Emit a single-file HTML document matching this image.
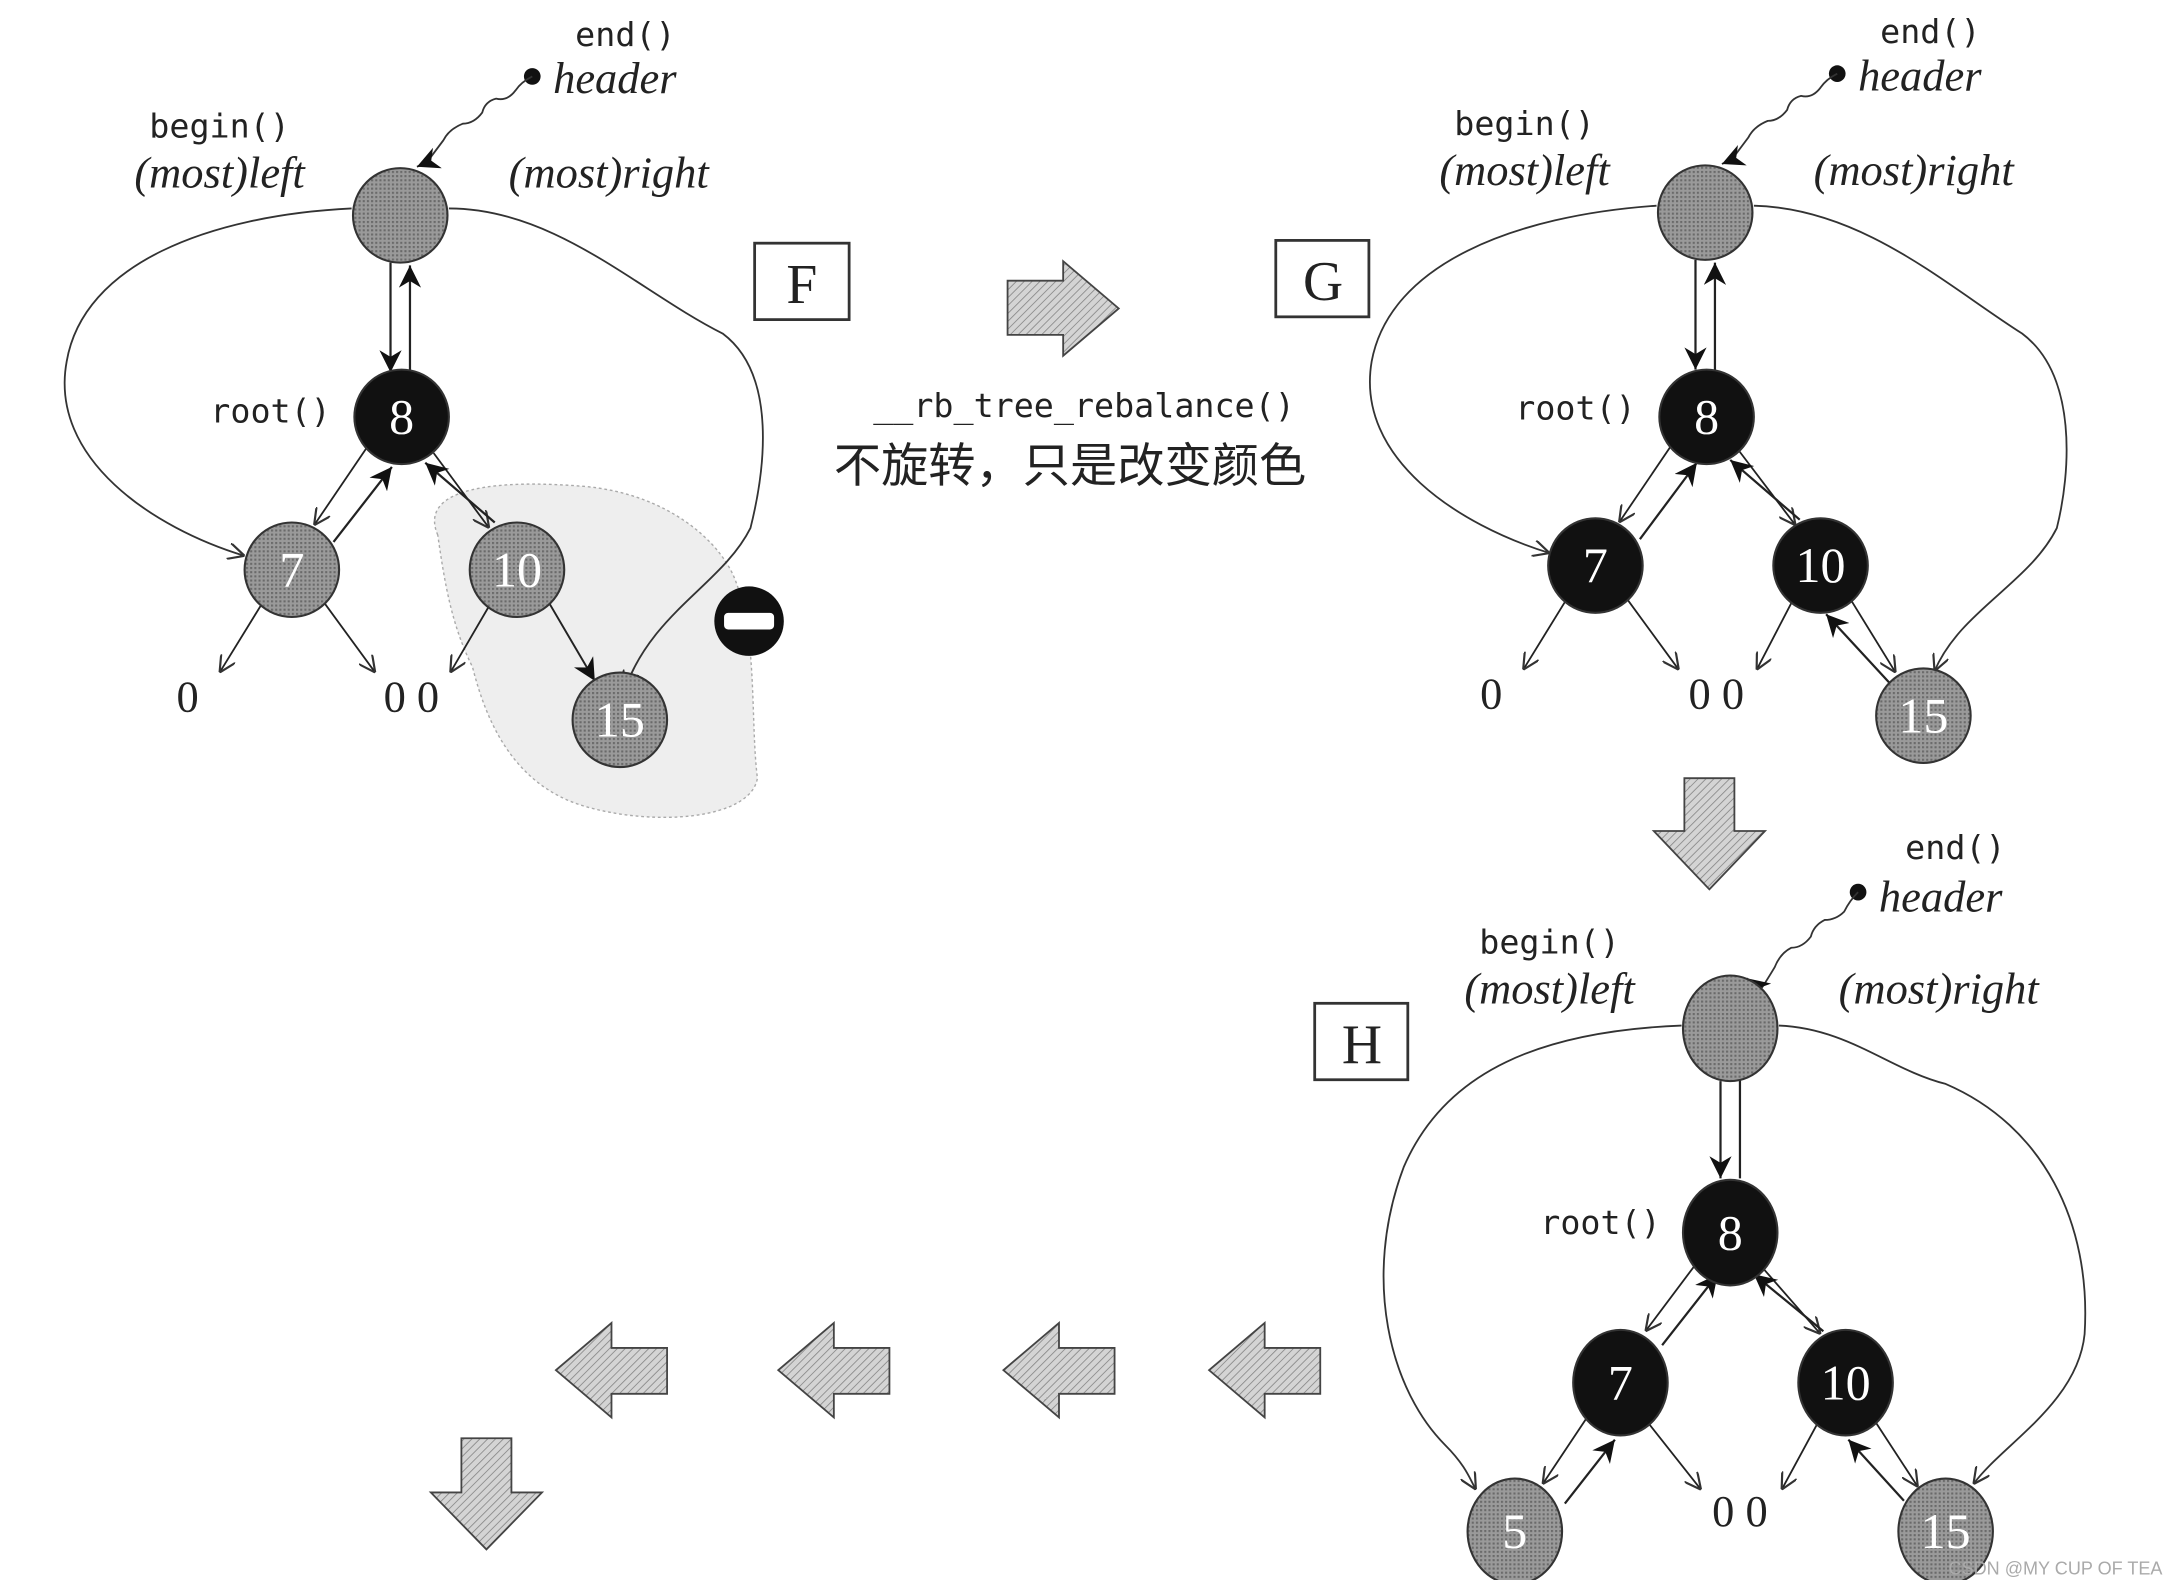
<!DOCTYPE html>
<html><head><meta charset="utf-8">
<style>
html,body{margin:0;padding:0;background:#fff;}
svg{display:block;}
.mono{font-family:"DejaVu Sans Mono","Liberation Mono",monospace;}
.it{font-family:"Liberation Serif",serif;font-style:italic;}
.sr{font-family:"Liberation Serif",serif;}
</style></head>
<body>
<svg id="s" width="2168" height="1580" viewBox="0 0 1560 1137" preserveAspectRatio="none" xmlns="http://www.w3.org/2000/svg">
<defs>
<pattern id="hat" width="4" height="4" patternUnits="userSpaceOnUse" patternTransform="rotate(45)">
<rect width="4" height="4" fill="#d4d4d4"/><line x1="0" y1="0" x2="0" y2="4" stroke="#888" stroke-width="1.2"/>
</pattern>
<pattern id="dot" width="3" height="3" patternUnits="userSpaceOnUse">
<rect width="3" height="3" fill="#9a9a9a"/><rect width="1.5" height="1.5" fill="#6a6a6a"/>
</pattern>
<marker id="ao" viewBox="0 0 10 10" refX="10" refY="5" markerWidth="12" markerHeight="12" markerUnits="userSpaceOnUse" orient="auto"><path d="M0,0 L10,5 L0,10" fill="none" stroke="#333" stroke-width="1.3"/></marker>
<marker id="af" viewBox="0 0 10 10" refX="10" refY="5" markerWidth="16" markerHeight="16" markerUnits="userSpaceOnUse" orient="auto"><path d="M0,0 L10,5 L0,10 L3,5 z" fill="#111"/></marker>
</defs>
<path d="M315,385 C300,350 360,345 420,350 C480,355 520,390 530,420 C545,460 540,520 545,560 C540,590 470,595 420,580 C370,565 350,520 340,480 C325,450 320,420 315,385 z" fill="#eeeeee" stroke="#aaa" stroke-dasharray="2,2"/>
<g id="g"></g>
</svg>
<script>
const g=document.getElementById('g');let h='';
function ln(x1,y1,x2,y2,m,w){h+=`<line x1="${x1}" y1="${y1}" x2="${x2}" y2="${y2}" stroke="#222" stroke-width="${w||1.3}" marker-end="url(#${m})"/>`;}
function node(x,y,t,black,ry){ry=ry||34;h+=`<ellipse cx="${x}" cy="${y}" rx="34" ry="${ry}" fill="${black?'#111':'url(#dot)'}" stroke="#333" stroke-width="1.5"/>`;
 if(t!=='')h+=`<text x="${x}" y="${y+12}" text-anchor="middle" class="sr" font-size="36" fill="#fff">${t}</text>`;}
function tx(x,y,t,c,s,a){h+=`<text x="${x}" y="${y}" class="${c}" font-size="${s}" fill="#222" text-anchor="${a||'start'}">${t}</text>`;}
function tree(ox,oy,st,ry){
 // st: colors [7,10,15], five?
 const H=[ox,oy],R=[ox+1,oy+147*(ry/34)],L=[ox-78,R[1]+108*(ry/34)],Rt=[ox+84,L[1]];
 // header labels
 tx(ox+162,oy-122,'end()','mono',24,'middle');
 tx(ox+110,oy-88,'header','it',32);
 h+=`<circle cx="${ox+95}" cy="${oy-100}" r="6" fill="#111"/>`;
 h+=`<path d="M${ox+95},${oy-100} q-8,4 -12,10 q-6,8 -14,6 q-8,2 -10,10 q-6,8 -14,8 q-10,4 -14,12 q-6,8 -12,16 L${ox+12},${oy-35}" fill="none" stroke="#333" stroke-width="1.3" marker-end="url(#af)"/>`;
 tx(ox-130,oy-56,'begin()','mono',24,'middle');
 tx(ox-130,oy-20,'(most)left','it',32,'middle');
 tx(ox+150,oy-20,'(most)right','it',32,'middle');
 tx(ox-50,R[1]+2,'root()','mono',24,'end');
 // header<->root
 ln(ox-7,oy+34,ox-7,R[1]-ry,'af',1.6); ln(ox+7,R[1]-ry,ox+7,oy+ry+2,'af',1.6);
 return {H,R,L,Rt};
}
// ---- F ----
let t=tree(288,155,0,34);
h+=`<path d="M253,150 C150,155 60,190 48,260 C35,330 110,380 176,400" fill="none" stroke="#333" stroke-width="1.3" marker-end="url(#ao)"/>`;
h+=`<path d="M323,150 C400,150 460,210 520,240 C560,270 550,340 540,380 C520,420 470,440 450,495" fill="none" stroke="#333" stroke-width="1.3" marker-end="url(#ao)"/>`;
ln(264,322,226,378,'ao');ln(240,390,282,336,'af',1.6);
ln(312,326,352,380,'ao');ln(356,376,306,333,'af',1.6);
ln(190,432,158,484,'ao');ln(232,432,270,484,'ao');
ln(352,436,324,484,'ao');ln(394,432,428,490,'af',1.4);
node(288,155,'',false);node(289,300,'8',true);node(210,410,'7',false);node(372,410,'10',false);node(446,518,'15',false);
tx(135,512,'0','sr',32,'middle');tx(296,512,'0 0','sr',32,'middle');
h+=`<circle cx="539" cy="447" r="25" fill="#111"/><rect x="521" y="441" width="36" height="12" rx="3" fill="#fff"/>`;
h+=`<rect x="543" y="175" width="68" height="55" fill="#fff" stroke="#333" stroke-width="2"/>`;tx(577,218,'F','sr',40,'middle');
// right arrow
h+=`<path d="M725,202 L765,202 L765,188 L805,222 L765,256 L765,241 L725,241 z" fill="url(#hat)" stroke="#444" stroke-width="1.3"/>`;
tx(780,300,'__rb_tree_rebalance()','mono',24,'middle');
h+=`<text x="600" y="347" font-family="'Liberation Sans','Noto Sans CJK SC',sans-serif" font-size="34" fill="#222">不旋转，只是改变颜色</text>`;
// ---- G ----
t=tree(1227,153,0,34);
h+=`<path d="M1192,148 C1090,155 1000,190 987,260 C975,330 1050,378 1115,398" fill="none" stroke="#333" stroke-width="1.3" marker-end="url(#ao)"/>`;
h+=`<path d="M1262,148 C1340,150 1400,205 1455,240 C1495,270 1490,340 1480,380 C1460,420 1410,440 1392,483" fill="none" stroke="#333" stroke-width="1.3" marker-end="url(#ao)"/>`;
ln(1203,320,1165,376,'ao');ln(1180,388,1221,333,'af',1.6);
ln(1251,324,1292,378,'ao');ln(1295,374,1245,331,'af',1.6);
ln(1128,430,1096,482,'ao');ln(1170,430,1208,482,'ao');
ln(1290,432,1264,482,'ao');ln(1332,432,1364,484,'ao');ln(1362,494,1314,442,'af',1.6);
node(1227,153,'',false);node(1228,300,'8',true);node(1148,407,'7',true);node(1310,407,'10',true);node(1384,515,'15',false);
tx(1073,510,'0','sr',32,'middle');tx(1235,510,'0 0','sr',32,'middle');
h+=`<rect x="918" y="173" width="67" height="55" fill="#fff" stroke="#333" stroke-width="2"/>`;tx(952,216,'G','sr',40,'middle');
// down arrow
h+=`<path d="M1212,560 L1248,560 L1248,598 L1270,598 L1230,640 L1190,598 L1212,598 z" fill="url(#hat)" stroke="#444" stroke-width="1.3"/>`;
// ---- H ----
const ox=1245;
tx(ox+162,618,'end()','mono',24,'middle');tx(ox+107,656,'header','it',32);
h+=`<circle cx="${ox+92}" cy="642" r="6" fill="#111"/>`;
h+=`<path d="M${ox+92},642 q-6,6 -10,14 q-6,6 -14,6 q-8,4 -10,12 q-6,8 -14,8 q-8,4 -12,14 q-6,10 -10,16 L${ox+12},704" fill="none" stroke="#333" stroke-width="1.3" marker-end="url(#af)"/>`;
tx(ox-130,686,'begin()','mono',24,'middle');tx(ox-130,722,'(most)left','it',32,'middle');tx(ox+150,722,'(most)right','it',32,'middle');
tx(ox-50,888,'root()','mono',24,'end');
ln(ox-7,778,ox-7,848,'af',1.6);ln(ox+7,848,ox+7,745,'af',1.6);
h+=`<path d="M1210,738 C1110,742 1040,770 1010,840 C980,920 1000,1000 1040,1040 C1055,1055 1058,1065 1062,1072" fill="none" stroke="#333" stroke-width="1.3" marker-end="url(#ao)"/>`;
h+=`<path d="M1280,738 C1330,740 1360,770 1400,780 C1470,810 1505,880 1500,960 C1495,1010 1440,1040 1420,1068" fill="none" stroke="#333" stroke-width="1.3" marker-end="url(#ao)"/>`;
ln(1220,910,1184,958,'ao');ln(1196,968,1236,917,'af',1.6);
ln(1268,912,1310,960,'ao');ln(1312,958,1262,917,'af',1.6);
ln1=0;
ln(1142,1020,1110,1068,'ao');ln(1126,1082,1162,1036,'af',1.6);
ln(1186,1024,1224,1072,'ao');
ln(1308,1024,1282,1072,'ao');ln(1350,1024,1380,1070,'ao');ln(1370,1080,1330,1036,'af',1.6);
node(1245,740,'',false,38);node(1245,887,'8',true,38);node(1166,995,'7',true,38);node(1328,995,'10',true,38);node(1090,1102,'5',false,38);node(1400,1102,'15',false,38);
tx(1252,1098,'0 0','sr',32,'middle');
h+=`<rect x="946" y="722" width="67" height="55" fill="#fff" stroke="#333" stroke-width="2"/>`;tx(980,765,'H','sr',40,'middle');
// left arrows
[400,560,722,870].forEach(x=>{h+=`<path d="M${x+80},970 L${x+40},970 L${x+40},952 L${x},986 L${x+40},1020 L${x+40},1003 L${x+80},1003 z" fill="url(#hat)" stroke="#444" stroke-width="1.3"/>`;});
h+=`<path d="M332,1035 L368,1035 L368,1074 L390,1074 L350,1115 L310,1074 L332,1074 z" fill="url(#hat)" stroke="#444" stroke-width="1.3"/>`;
h+=`<text x="1556" y="1133" text-anchor="end" font-family="'Liberation Sans',sans-serif" font-size="13" fill="#aaa">CSDN @MY CUP OF TEA</text>`;
g.innerHTML=h;
</script>
</body></html>
